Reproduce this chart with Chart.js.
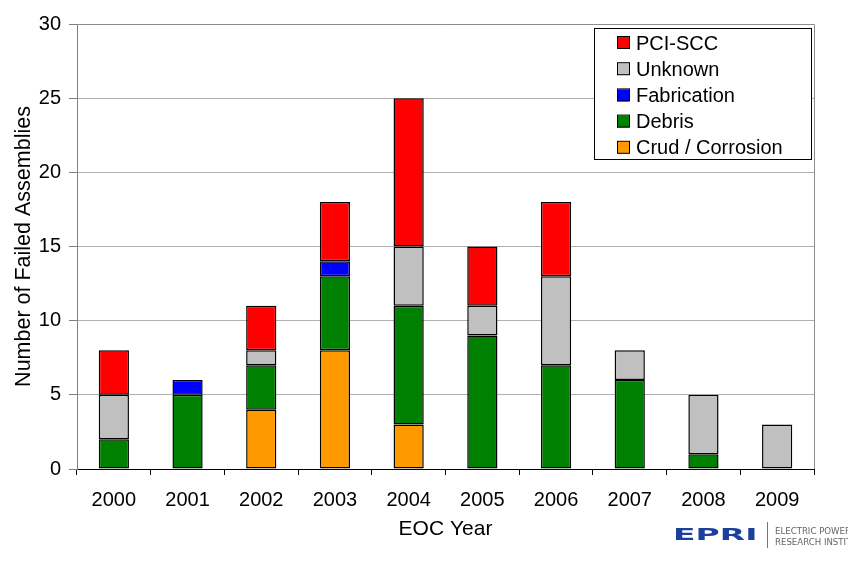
<!DOCTYPE html>
<html>
<head>
<meta charset="utf-8">
<script src="https://cdn.jsdelivr.net/npm/chart.js@4.4.1/dist/chart.umd.min.js"></script>
<style>
  html, body { margin: 0; padding: 0; background: #fff; }
  .wrap { position: relative; width: 848px; height: 562px; overflow: hidden; }
  canvas { display: block; }
  .logo { position: absolute; left: 673px; top: 527px; font: bold 15px "DejaVu Sans", sans-serif; line-height: 15px;
          color: #1c3f9e; transform: scale(2.2, 1.05); transform-origin: left top; }
  .sep { position: absolute; left: 767px; top: 522px; width: 1px; height: 26px; background: #777; }
  .logotxt { position: absolute; left: 775px; top: 526px; font: 8.6px "DejaVu Sans", sans-serif; color: #666;
             line-height: 11px; white-space: nowrap; }
</style>
</head>
<body>
<div class="wrap">
  <canvas id="grafica" width="848" height="562"></canvas>
  <div class="logo">EPRI</div>
  <div class="sep"></div>
  <div class="logotxt">ELECTRIC POWER<br>RESEARCH INSTITUTE</div>
</div>
<script>
const years = ['2000','2001','2002','2003','2004','2005','2006','2007','2008','2009'];
// bottom to top of each stack
const crud        = [0, 0, 4, 8, 3, 0, 0, 0, 0, 0];
const debris      = [2, 5, 3, 5, 8, 9, 7, 6, 1, 0];
const fabrication = [0, 1, 0, 1, 0, 0, 0, 0, 0, 0];
const unknown     = [3, 0, 1, 0, 4, 2, 6, 2, 4, 3];
const pciScc      = [3, 0, 3, 4, 10, 4, 5, 0, 0, 0];
const yTicks = [0, 5, 10, 15, 20, 25, 30];

const fuente = '"Liberation Sans", Arial, sans-serif';

const serie = (label, data, color) => ({
  label, data, backgroundColor: color, borderColor: '#000', borderWidth: 1.5,
  borderSkipped: false, categoryPercentage: 1, barPercentage: 0.41
});

// recuadro gris del area y leyenda dibujada a mano
const marcoYLeyenda = {
  id: 'marcoYLeyenda',
  beforeDatasetsDraw(chart) {
    const {ctx, chartArea: a} = chart;
    ctx.save();
    ctx.strokeStyle = '#8c8c8c';
    ctx.lineWidth = 1;
    ctx.beginPath();
    ctx.moveTo(a.left, a.top + 0.5);
    ctx.lineTo(a.right + 0.5, a.top + 0.5);
    ctx.lineTo(a.right + 0.5, a.bottom);
    ctx.stroke();
    ctx.restore();
  },
  afterDraw(chart) {
    const ctx = chart.ctx;
    const x = 594, y = 28, w = 217, h = 131;
    ctx.save();
    ctx.fillStyle = '#fff';
    ctx.fillRect(x, y, w, h);
    ctx.strokeStyle = '#000';
    ctx.lineWidth = 1;
    ctx.strokeRect(x + 0.5, y + 0.5, w, h);
    const ds = chart.data.datasets.slice().reverse();
    ctx.font = '20px ' + fuente;
    ctx.textBaseline = 'middle';
    ds.forEach((d, i) => {
      const cy = 43 + i * 26.2;
      ctx.fillStyle = d.backgroundColor;
      ctx.fillRect(617, cy - 6, 12, 12);
      ctx.strokeStyle = '#000';
      ctx.strokeRect(617.5, cy - 6.5, 12, 12);
      ctx.fillStyle = '#000';
      ctx.fillText(d.label, 636, cy + 1);
    });
    ctx.restore();
  }
};

new Chart(document.getElementById('grafica'), {
  type: 'bar',
  data: {
    labels: years,
    datasets: [
      serie('Crud / Corrosion', crud, '#ff9900'),
      serie('Debris', debris, '#008000'),
      serie('Fabrication', fabrication, '#0000ff'),
      serie('Unknown', unknown, '#c0c0c0'),
      serie('PCI-SCC', pciScc, '#ff0000')
    ]
  },
  options: {
    responsive: false,
    animation: false,
    layout: { padding: { left: 0, right: 34, top: 24, bottom: 0 } },
    plugins: { legend: { display: false }, tooltip: { enabled: false } },
    scales: {
      x: {
        stacked: true,
        afterFit: s => { s.height = 93; },
        border: { display: true, color: '#000', width: 1 },
        grid: { drawOnChartArea: false, drawTicks: true, tickLength: 6, color: '#000', offset: true },
        ticks: { color: '#000', font: { family: fuente, size: 20 }, padding: 13 },
        title: { display: true, text: 'EOC Year', color: '#000',
                 font: { family: fuente, size: 21 }, padding: { top: 0, bottom: 20 } }
      },
      y: {
        stacked: true,
        min: 0, max: 30,
        afterFit: s => { s.width = 77; },
        afterBuildTicks: s => { s.ticks = yTicks.map(v => ({ value: v })); },
        border: { display: true, color: '#808080', width: 1 },
        grid: { color: '#b0b0b0', tickLength: 8, tickColor: '#808080' },
        ticks: { color: '#000', font: { family: fuente, size: 20 }, padding: 8 },
        title: { display: true, text: 'Number of Failed Assemblies', color: '#000',
                 font: { family: fuente, size: 21.5 }, padding: { top: 11, bottom: 0 } }
      }
    }
  },
  plugins: [marcoYLeyenda]
});
</script>
</body>
</html>
